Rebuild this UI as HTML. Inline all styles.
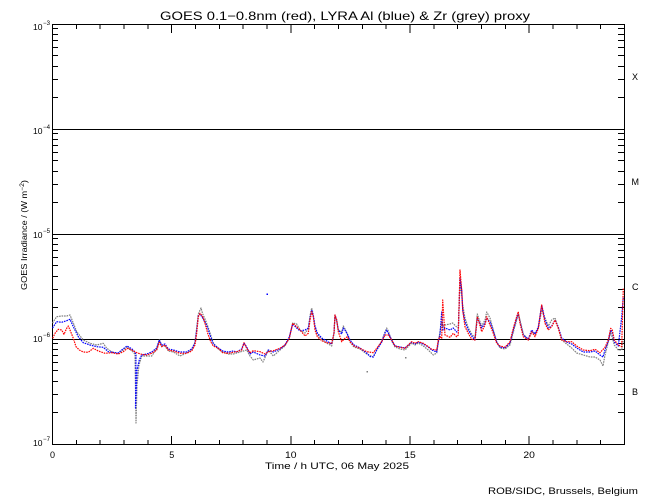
<!DOCTYPE html>
<html><head><meta charset="utf-8"><style>
html,body{margin:0;padding:0;background:#fff;}
svg{display:block;}
text{font-family:"Liberation Sans",sans-serif;fill:#000;}
</style></head><body>
<svg width="650" height="500" viewBox="0 0 650 500" xmlns="http://www.w3.org/2000/svg">
<rect width="650" height="500" fill="#fff"/>
<text x="160" y="20" font-size="12" textLength="370" lengthAdjust="spacingAndGlyphs">GOES 0.1−0.8nm (red), LYRA Al (blue) &amp; Zr (grey) proxy</text>

<g stroke="#000" stroke-width="1" fill="none" shape-rendering="crispEdges">
<rect x="52.5" y="24.5" width="572" height="420"/>
<line x1="52" y1="129.5" x2="624" y2="129.5"/>
<line x1="52" y1="234.5" x2="624" y2="234.5"/>
<line x1="52" y1="339.5" x2="624" y2="339.5"/>
<path d="
M76.3 444V440 M100.2 444V440 M124 444V440 M147.8 444V440 M171.7 444V436 M195.5 444V440 M219.3 444V440 M243.2 444V440 M267 444V440 M290.8 444V436 M314.7 444V440 M338.5 444V440 M362.3 444V440 M386.2 444V440 M410 444V436 M433.8 444V440 M457.7 444V440 M481.5 444V440 M505.3 444V440 M529.2 444V436 M553 444V440 M576.8 444V440 M600.7 444V440
M76.3 25V29 M100.2 25V29 M124 25V29 M147.8 25V29 M171.7 25V33 M195.5 25V29 M219.3 25V29 M243.2 25V29 M267 25V29 M290.8 25V33 M314.7 25V29 M338.5 25V29 M362.3 25V29 M386.2 25V29 M410 25V33 M433.8 25V29 M457.7 25V29 M481.5 25V29 M505.3 25V29 M529.2 25V33 M553 25V29 M576.8 25V29 M600.7 25V29
"/>
<path d="
M52 412.5h6 M52 394.5h6 M52 381.5h6 M52 370.5h6 M52 362.5h6 M52 355.5h6 M52 349.5h6 M52 343.5h6
M52 307.5h6 M52 289.5h6 M52 276.5h6 M52 265.5h6 M52 257.5h6 M52 250.5h6 M52 244.5h6 M52 238.5h6
M52 202.5h6 M52 184.5h6 M52 171.5h6 M52 160.5h6 M52 152.5h6 M52 145.5h6 M52 139.5h6 M52 133.5h6
M52 97.5h6 M52 79.5h6 M52 66.5h6 M52 55.5h6 M52 47.5h6 M52 40.5h6 M52 34.5h6 M52 28.5h6
M624 412.5h-6 M624 394.5h-6 M624 381.5h-6 M624 370.5h-6 M624 362.5h-6 M624 355.5h-6 M624 349.5h-6 M624 343.5h-6
M624 307.5h-6 M624 289.5h-6 M624 276.5h-6 M624 265.5h-6 M624 257.5h-6 M624 250.5h-6 M624 244.5h-6 M624 238.5h-6
M624 202.5h-6 M624 184.5h-6 M624 171.5h-6 M624 160.5h-6 M624 152.5h-6 M624 145.5h-6 M624 139.5h-6 M624 133.5h-6
M624 97.5h-6 M624 79.5h-6 M624 66.5h-6 M624 55.5h-6 M624 47.5h-6 M624 40.5h-6 M624 34.5h-6 M624 28.5h-6
"/>
</g>

<g font-size="8">
<text x="33" y="30" textLength="9.5" lengthAdjust="spacingAndGlyphs">10</text><text x="43" y="25" font-size="6" textLength="7" lengthAdjust="spacingAndGlyphs">−3</text>
<text x="33" y="134" textLength="9.5" lengthAdjust="spacingAndGlyphs">10</text><text x="43" y="129" font-size="6" textLength="7" lengthAdjust="spacingAndGlyphs">−4</text>
<text x="33" y="238" textLength="9.5" lengthAdjust="spacingAndGlyphs">10</text><text x="43" y="233" font-size="6" textLength="7" lengthAdjust="spacingAndGlyphs">−5</text>
<text x="33" y="342" textLength="9.5" lengthAdjust="spacingAndGlyphs">10</text><text x="43" y="337" font-size="6" textLength="7" lengthAdjust="spacingAndGlyphs">−6</text>
<text x="33" y="446" textLength="9.5" lengthAdjust="spacingAndGlyphs">10</text><text x="43" y="441" font-size="6" textLength="7" lengthAdjust="spacingAndGlyphs">−7</text>
</g>

<g font-size="9" text-anchor="middle">
<text x="52.5" y="458">0</text>
<text x="171.7" y="458">5</text>
<text x="290.8" y="458" textLength="11.5" lengthAdjust="spacingAndGlyphs">10</text>
<text x="410" y="458" textLength="11.5" lengthAdjust="spacingAndGlyphs">15</text>
<text x="529.2" y="458" textLength="11.5" lengthAdjust="spacingAndGlyphs">20</text>
</g>
<text x="265" y="469" font-size="9" textLength="144" lengthAdjust="spacingAndGlyphs">Time / h UTC, 06 May 2025</text>
<text x="488" y="494" font-size="9.5" textLength="150" lengthAdjust="spacingAndGlyphs">ROB/SIDC, Brussels, Belgium</text>

<text transform="translate(27,290) rotate(-90)" font-size="8" textLength="110" lengthAdjust="spacingAndGlyphs">GOES Irradiance / (W m<tspan dy="-3" font-size="6">−2</tspan><tspan dy="3">)</tspan></text>

<g font-size="9">
<text x="632" y="80">X</text>
<text x="631.5" y="185">M</text>
<text x="632" y="290">C</text>
<text x="632" y="395">B</text>
</g>

<g fill="none" stroke-width="1.2" stroke-linejoin="round" stroke-dasharray="1.6 0.9">
<polyline stroke="#808080" points="52.5,323 56.7,316.7 61.7,316 66.7,316 70,315 73.3,323 76.7,331.7 83.3,340 90,343.3 96.7,345 103.3,343.3 106.7,348.3 112,352 118,354 123,350 127,347 132,351 135,354 136,423 137,385 139,365 141.7,356 146.7,356 151.7,356 156.7,349 159.3,340 161.7,346 165,346 168.3,351 173.3,352 180,356 186.7,353 191.7,350 195,342 196.7,328 198.3,314 201,308 202.7,314 205,319 207.7,326 210.7,335 213.3,343 218.3,349 222.7,352 228.3,354 233.3,354 240,352 246.7,350 250,356 253.3,360 260,358 263,362 268.3,350 273.3,356 280,350 285,346 289.3,338 292.7,323 296.7,324 300,330 305,333 308.3,329 310,316 311.7,308 313.3,315 315,327 317.3,334 321.7,340 326.7,343 331.7,346 334,333 335,316 336.7,321 338.3,330 341.7,332 343.3,326 345,329 347.3,334 350,342 354,347 360,349 366.7,354 373.3,357 376.7,350 381.7,341 385,332 386.7,328 388.3,331 391.7,341 395,347 400,349 405,350 411.7,343 415,345 418.3,343 423.3,346 428.3,350 433.3,355 436.7,353 438.3,342 440,332 441.7,322 443,326 445,325 450,324 452.7,323 456.7,327 458.3,328 460,283 461.7,295 462.7,305 465,318 468.3,328 471.7,334 475,338 477.3,314 479.3,320 481.7,326 485,320 486.7,312 490,318 493.3,330 496.7,342 500,348 505,349 510,345 513.3,332 516.7,320 518.3,314 520,320 523.3,334 528.3,340 531.7,332 535,334 538.3,329 541.7,310 545,318 548.3,326 551.7,320 555,318 558.3,328 561.7,340 566.7,344 571.7,348 576.7,353 583.3,355 590,357 595,357 600,360 603,366 605,355 608.3,342 610.7,332 614.3,345 618.3,350 621.7,350 623.3,340"/>
<polyline stroke="#0000ff" points="52.5,328 56.7,321.7 61.7,322.3 66.7,320.7 70,319.3 73.3,326.7 78.3,336.7 83.3,342.7 90,345 96.7,346.7 103.3,347.3 108.3,351.7 118,353 123,349 127,346 132,349 135,352 136,355 135.5,408 137,370 139.3,360 141.7,355 146.7,354 151.7,352 156.7,348 159.3,340 161.7,345 165,344 168.3,349 173.3,350 180,352 186.7,352 191.7,349 195,343 196.7,330 198.3,316 200,314 202.7,318 205,322 207.7,328 210.7,337 213.3,344 218.3,348 222.7,351 228.3,352 233.3,351 236.7,352 241.7,349 244,343 246.7,347 250,354 253.3,352 260,355 265,356 268.3,350 273.3,352 280,349 285,345 289.3,337 292.7,324 296.7,328 300,331 305,330 308.3,328 310,318 311.7,310 313.3,316 315,326 317.3,333 321.7,338 326.7,341 331.7,344 334,333 335,315 336.7,320 338.3,330 341.7,334 343.3,328 345,330 347.3,334 350,340 354,345 360,348 366.7,353 370,356.5 373.3,357 376.7,350 381.7,342 385,333 386.7,330 388.3,333 391.7,340 395,346 400,347 405,348 411.7,342 415,344 418.3,342 423.3,344 428.3,347 431.7,350 436.7,352 438.3,342 440,334 441.7,312 443,330 445,328 450,330 453.3,328 456.7,332 458.3,330 460,278 461.7,290 462.7,310 465,322 468.3,330 471.7,336 475,340 477.3,318 479.3,322 481.7,328 485,323 486.7,318 490,322 493.3,331 496.7,342 500,347 505,348 510,343 513.3,330 516.7,318 518.3,314 520,322 523.3,335 528.3,339 531.7,330 535,334 538.3,327 541.7,305 545,320 548.3,328 551.7,326 555,320 558.3,327 561.7,338 566.7,342 571.7,344 576.7,348 583.3,352 590,352 595,351 600,355 603,357 605,350 608.3,341 610.7,330 612.3,332 614.3,342 618.3,346 621.7,317 623.3,297"/>
<polyline stroke="#ff0000" points="52.7,338.3 55,333.3 58.3,329.3 61.7,330 64,334.3 66.7,328.3 68.3,326 70.7,331.7 73.3,338.3 76,346.7 79.3,350 83.3,352 88.3,352.3 93.3,348.3 98.3,351 105,353.3 111.7,352.7 118.3,354 123.3,351.7 127.3,348.3 131.7,350 136.7,352.7 141.7,354.3 146.7,355 151.7,353.3 156.7,350 159.3,342.3 161.7,346.7 165,345 168.3,350 173.3,351 180,353.3 186.7,353.3 191.7,351 195,345 196.7,333.3 198.3,316.7 200,313.3 202.7,316.7 205,323.3 207.7,333.3 210.7,341.7 213.3,346 218.3,348.3 222.7,352.7 228.3,353.3 233.3,352.3 236.7,351.7 241.7,350 244,342.7 246.7,348.3 250,352.7 253.3,350.7 260,351.7 265,354 268.3,351.7 273.3,350.7 280,348.3 285,345 289.3,338.3 292.7,323.3 296.7,326.7 300.7,330.7 305,336 308.3,333.3 310,320 311.7,311.7 313.3,316.7 315,330 317.3,336.7 321.7,340.7 326.7,342.7 331.7,343.3 334,333.3 335,315 336.7,320 338.3,331.7 341.7,341.7 345,338.3 347.3,336.7 350,341.7 354,346 360,348.3 366.7,351.7 373.3,352.7 376.7,348.3 381.7,341.7 385,335 388.3,335 391.7,340 395,346 400,347.3 405,348.3 411.7,341.7 415,343.3 418.3,341.7 423.3,343.3 428.3,346.7 431.7,349.3 436.7,350 438.3,340 440,336.7 441.7,338.3 442.7,300 445,335 450,337.3 453.3,333.3 456.7,336.7 458.3,335 460,270 461.7,290 462.7,310 465,326.7 468.3,333.3 471.7,339.3 475,340 477.3,316.7 479.3,323.3 481.7,331.7 485,325 486.7,316.7 490,325 493.3,333.3 496.7,343.3 500,346 505,347.3 510,341.7 513.3,328.3 516.7,316.7 518.3,311.7 520,323.3 523.3,336.7 528.3,340 531.7,331.7 535,336.7 538.3,328.3 541.7,305 545,323.3 548.3,330 551.7,326.7 555,320 558.3,328.3 561.7,340 566.7,341.7 571.7,341.7 576.7,346 583.3,350 590,350.7 595,349.3 600,352.7 605,347.3 608.3,340 610.7,328.3 612.3,330 614.3,340 618.3,345 621.7,346.7 623.3,288.3"/>
</g>
<rect x="266.5" y="293.5" width="1.5" height="1.5" fill="#0000ff"/>
<rect x="366.5" y="371" width="1.5" height="1.5" fill="#808080"/>
<rect x="405" y="357" width="1.5" height="1.5" fill="#808080"/>
</svg>
</body></html>
